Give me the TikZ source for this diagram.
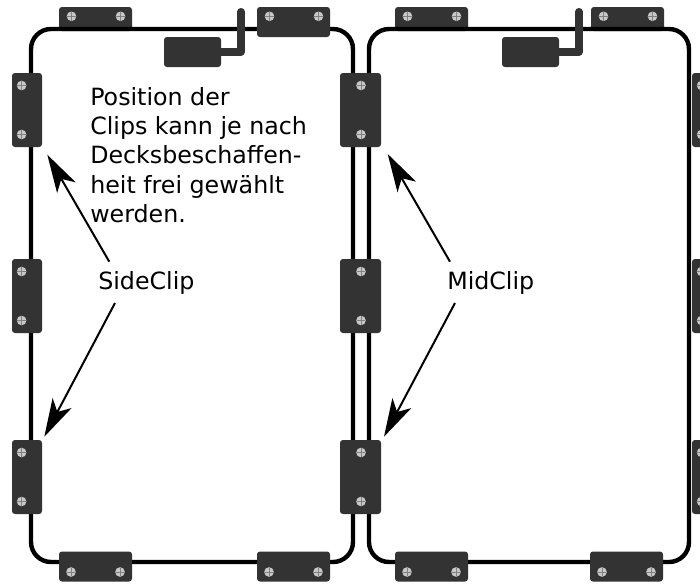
\documentclass[tikz,border=0pt]{standalone}
\usepackage{fontspec}
\setmainfont{DejaVu Sans}
\usetikzlibrary{arrows.meta}
\definecolor{clipc}{HTML}{333333}
\definecolor{screwc}{HTML}{C8C8C8}
\definecolor{slotc}{HTML}{808080}
\tikzset{
  x=0.75pt,y=-0.75pt,
  frameline/.style={draw=black,line width=3.3pt,rounded corners=15pt},
  clipbox/.style={fill=clipc,rounded corners=2.2pt},
  ant/.style={draw=clipc,line width=5.3pt,line cap=round,line join=round},
  lead/.style={draw=black,line width=1.5pt,-{Stealth[length=28.5pt,width=16pt,inset=7.5pt]}},
  lbl/.style={font=\fontsize{17.8pt}{20pt}\selectfont,inner sep=0pt,anchor=base west},
}
\newcommand{\screw}[2]{%
  \fill[screwc] (#1,#2) circle[radius=3.6pt];
  \draw[slotc,line width=0.4pt] (#1-4.4,#2) -- (#1+4.4,#2) (#1,#2-4.4) -- (#1,#2+4.4);}
\newcommand{\hclip}[3]{% x left, y top, height
  \fill[clipbox] (#1,#2) rectangle ++(73,#3);
  \screw{#1+12.5}{16.3}\screw{#1+61.5}{16.3}}
\newcommand{\hclipb}[1]{%
  \fill[clipbox] (#1,551.5) rectangle ++(73,30);
  \screw{#1+12}{572}\screw{#1+61}{572}}
\newcommand{\vclip}[3]{% x left, width, y top
  \fill[clipbox] (#1,#3) rectangle ++(#2,74);
  \screw{#1+9.6}{#3+12.5}\screw{#1+9.6}{#3+61.5}}
\newcommand{\mclip}[1]{%
  \fill[clipbox] (340,#1) rectangle ++(41,74);
  \screw{361}{#1+12.5}\screw{361}{#1+61.5}}
\newcommand{\antenna}[1]{%
  \draw[ant] (#1+50,52) -- (#1+77,52) -- (#1+77,11.5);
  \fill[clipbox] (#1,37) rectangle ++(57,30);}
\begin{document}
\begin{tikzpicture}
\useasboundingbox (0,0) rectangle (700,583);
\clip (0,0) rectangle (700,583);
% top clips behind the frame
\hclip{59}{7}{24}
\hclip{395}{7}{24}
\hclip{591}{7}{24}
% frames
\draw[frameline] (31,29) rectangle (353,562);
\draw[frameline] (369,29) rectangle (689,562);
% clips over the frame
\hclip{257}{7}{30}
\hclipb{59}\hclipb{257}\hclipb{395}\hclipb{590}
\vclip{12}{30}{73}\vclip{12}{30}{259}\vclip{12}{30}{440}
\mclip{73}\mclip{259}\mclip{440}
\vclip{692}{30}{73}\vclip{692}{30}{259}\vclip{692}{30}{440}
\antenna{164}
\antenna{502}
% text
\node[lbl] (note1) at (90,105.5) {Position der};
\node[lbl] (note2) at (90,134.5) {Clips kann je nach};
\node[lbl] (note3) at (90,163.5) {Decksbeschaf{}fen-};
\node[lbl] (note4) at (90,193) {heit frei gewählt};
\node[lbl] (note5) at (90,222.5) {werden.};
\node[lbl] (side) at (98,289) {SideClip};
\node[lbl] (mid) at (447,289) {MidClip};
% leaders
\coordinate (s1) at (109.3,261.7); \coordinate (s1t) at (47.3,154.7);
\coordinate (s2) at (115,303); \coordinate (s2t) at (44.3,436.7);
\coordinate (m1) at (450,261.7); \coordinate (m1t) at (387.7,154);
\coordinate (m2) at (455,303); \coordinate (m2t) at (384,436.7);
\draw[lead] (s1) -- (s1t); \draw[lead] (s2) -- (s2t);
\draw[lead] (m1) -- (m1t); \draw[lead] (m2) -- (m2t);
\end{tikzpicture}
\end{document}
